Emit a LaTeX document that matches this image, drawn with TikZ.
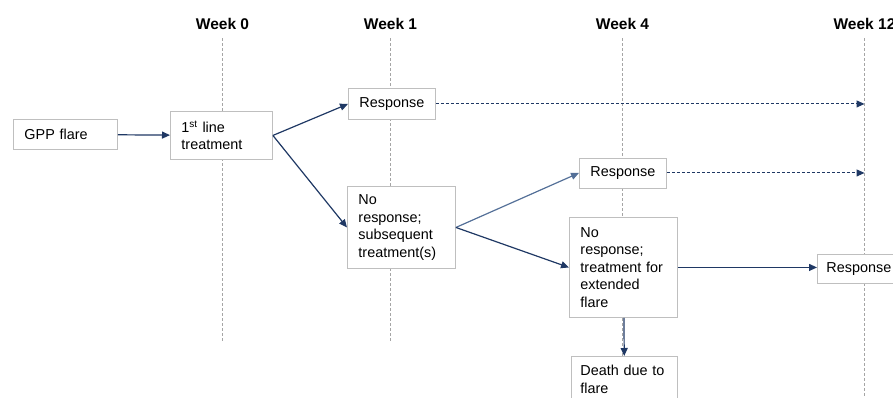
\documentclass[tikz,border=0pt]{standalone}
\usepackage{fontspec}
\setmainfont{Liberation Sans}
\usetikzlibrary{arrows.meta}
\definecolor{navy}{RGB}{31,56,100}
\definecolor{paleblue}{RGB}{84,112,152}
\definecolor{boxgray}{RGB}{191,191,191}
\definecolor{guidegray}{RGB}{165,165,165}

\begin{document}
\begin{tikzpicture}[x=1pt,y=-1pt,line width=1.2pt,
        >={Triangle[length=8pt,width=7pt]},
        box/.style={draw=boxgray,line width=0.9pt,fill=white,align=left,anchor=north west,
            inner xsep=11pt,inner ysep=0pt,font=\fontsize{14.4}{17.5}\selectfont},
        flow/.style={->,navy},
        guide/.style={guidegray,line width=0.7pt,dash pattern=on 3pt off 2pt}]
        \useasboundingbox (0,0) rectangle (893,397);
        % time axis
        \foreach \x/\lab/\bot [count=\i] in {222.5/Week 0/342,390.5/Week 1/342,622.5/Week 4/397,864.5/Week 12/397} {
            \node[anchor=base,font=\fontsize{15.5}{18}\selectfont\bfseries] (week\i) at (\x,29) {\lab};
            \draw[guide] (\x,38) -- (\x,\bot);
        }
        % states
        \node[box,minimum width=104pt,minimum height=30pt,text width=82pt] (gpp) at (13,119) {GPP flare};
        \node[box,minimum width=102pt,minimum height=48pt,text width=80pt] (first) at (170,111) {1\textsuperscript{st} line\\treatment};
        \node[box,minimum width=87pt,minimum height=31pt,text width=65pt] (resp1) at (348,88) {Response};
        \node[box,minimum width=108pt,minimum height=82pt,text width=86pt] (noresp1) at (347,186) {No\\response;\\subsequent\\treatment(s)};
        \node[box,minimum width=87pt,minimum height=30pt,text width=65pt] (resp4) at (579,157.5) {Response};
        \node[box,minimum width=108pt,minimum height=100pt,text width=86pt] (noresp4) at (569,217) {No\\response;\\treatment for\\extended\\flare};
        \node[box,minimum width=90pt,minimum height=29pt,text width=72pt,inner xsep=9pt] (resp12) at (817,254) {Response};
        \node[box,minimum width=106pt,minimum height=46pt,text width=88pt,inner xsep=9pt] (death) at (571,356) {Death due to\\flare};
        \coordinate (wk12line) at (864.5,0);
        \coordinate (end1) at (resp1.east -| wk12line);
        \coordinate (end4) at (resp4.east -| wk12line);
        % transitions
        \draw[flow] (gpp) -- (first);
        \draw[flow] (first.east) -- (resp1.west);
        \draw[flow] (first.east) -- (noresp1.west);
        \draw[->,paleblue] (noresp1.east) -- (resp4.west);
        \draw[flow] (noresp1.east) -- (noresp4.west);
        \draw[flow] (noresp4.east) -- (noresp4.east -| resp12.west);
        \draw[flow] (noresp4) -- (death);
        \draw[flow,line width=1pt,dash pattern=on 3pt off 2pt] (resp1) -- (end1);
        \draw[flow,line width=1pt,dash pattern=on 3pt off 2pt] (resp4) -- (end4);
    \end{tikzpicture}
\end{document}
